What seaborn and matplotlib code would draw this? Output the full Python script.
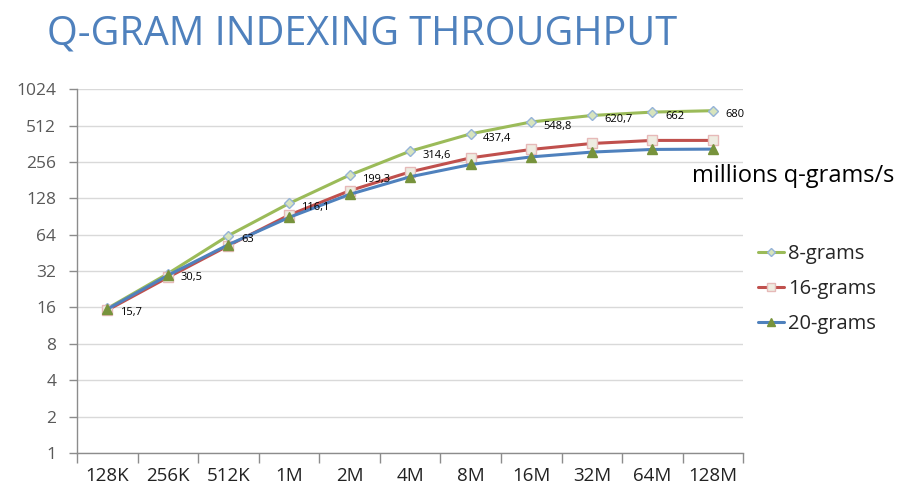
import seaborn as sns
import matplotlib.pyplot as plt
import pandas as pd
from matplotlib.ticker import FixedLocator, NullFormatter

sizes = ['128K', '256K', '512K', '1M', '2M', '4M', '8M', '16M', '32M', '64M', '128M']
grams8 = [15.7, 30.5, 63, 116.1, 199.3, 314.6, 437.4, 548.8, 620.7, 662, 680]
grams16 = [15.2, 28.4, 52, 93, 148, 212, 277, 325, 364, 386, 386]
grams20 = [15.5, 29.5, 53, 89, 138, 193, 244, 282, 309, 325, 327]
yticks = [1, 2, 4, 8, 16, 32, 64, 128, 256, 512, 1024]

sns.set_theme(style='white')
plt.rcParams['font.family'] = ['Open Sans', 'DejaVu Sans']

fig = plt.figure(figsize=(9.04, 4.95), dpi=100)
ax = fig.add_axes([0.0852, 0.0848, 0.737, 0.735])

series = [
    ('8-grams', grams8, '#9BBB59', 'D', '#D7E4BD', '#95B3D7', 5),
    ('16-grams', grams16, '#C0504D', 's', '#EEECE1', '#E6B9B8', 7),
    ('20-grams', grams20, '#4F81BD', '^', '#77933C', '#77933C', 7),
]
for name, vals, col, mk, fc, ec, ms in series:
    df = pd.DataFrame({'size': sizes, 'val': vals})
    sns.lineplot(data=df, x='size', y='val', ax=ax, color=col, linewidth=2.2,
                 marker=mk, markersize=ms, markerfacecolor=fc,
                 markeredgecolor=ec, markeredgewidth=1, label=name)

for i, v in enumerate(grams8):
    txt = f'{v:g}'.replace('.', ',')
    ax.annotate(txt, (i, v), xytext=(9, -3), textcoords='offset points',
                fontsize=8, color='black', va='center', ha='left')

ax.set_yscale('log', base=2)
ax.set_ylim(1, 1024)
ax.set_yticks(yticks)
ax.set_yticklabels([str(t) for t in yticks], fontsize=12.5, color='#595959')
ax.yaxis.set_minor_formatter(NullFormatter())
ax.set_xlim(-0.5, len(sizes) - 0.5)
ax.set_xticks(range(len(sizes)))
ax.set_xticklabels(sizes, fontsize=13.5, color='#222222')
ax.xaxis.set_minor_locator(FixedLocator([i - 0.5 for i in range(len(sizes) + 1)]))
ax.tick_params(axis='x', which='major', length=0, pad=10)
ax.tick_params(axis='x', which='minor', length=7, color='#8c8c8c', width=1,
               direction='out', bottom=True)
ax.tick_params(axis='y', which='major', length=6, color='#8c8c8c', width=1,
               direction='out', left=True, pad=9)
ax.tick_params(axis='y', which='minor', length=0)
ax.grid(axis='y', which='major', color='#d9d9d9', linewidth=1)
ax.set_xlabel('')
ax.set_ylabel('')
for s in ['top', 'right']:
    ax.spines[s].set_visible(False)
for s in ['left', 'bottom']:
    ax.spines[s].set_color('#8c8c8c')
    ax.spines[s].set_linewidth(1)

leg = ax.legend(loc='upper left', bbox_to_anchor=(0.995, 0.625), frameon=False,
                fontsize=14.5, handlelength=1.3, handletextpad=0.2,
                labelspacing=0.75, markerscale=0.8)

fig.text(0.052, 0.93, 'Q-GRAM INDEXING THROUGHPUT', fontsize=28.5,
         color='#4F81BD', ha='left', va='center', fontstretch='semi-condensed')
fig.text(0.765, 0.645, 'millions q-grams/s', fontsize=17, color='black',
         ha='left', va='center')

plt.savefig('out.png', dpi=100)
